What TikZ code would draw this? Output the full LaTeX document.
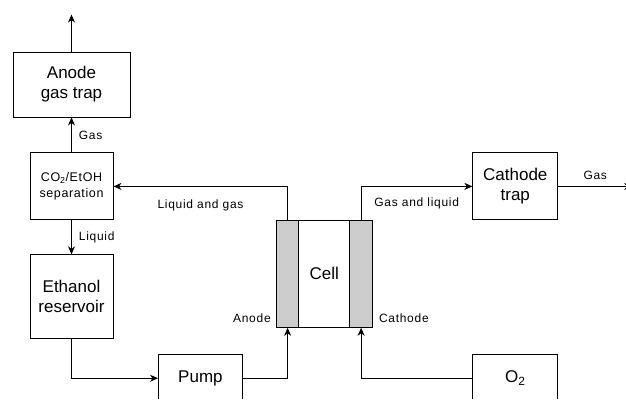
\documentclass[tikz,border=0pt]{standalone}
\usepackage{fontspec}
\setmainfont{Liberation Sans}
\usetikzlibrary{positioning,arrows.meta,calc}

\begin{document}
\begin{tikzpicture}[
  x=1pt, y=1pt,
  >={Stealth[length=8pt, width=7pt, inset=2.5pt]},
  box/.style={draw=black, line width=0.9pt, align=center, inner sep=2pt,
              font=\fontsize{17}{20}\selectfont},
  sepbox/.style={box, font=\fontsize{12.5}{16}\selectfont\addfontfeature{LetterSpace=5}},
  strip/.style={draw=black, line width=0.9pt, fill=black!20, inner sep=0pt,
                minimum width=22.5pt, minimum height=107pt},
  arr/.style={->, line width=0.9pt, black},
  lbl/.style={font=\fontsize{12}{14}\selectfont\addfontfeature{LetterSpace=6}, inner sep=0pt},
]
\useasboundingbox (0,0) rectangle (626,400);
\clip (0,1.8) rectangle (626,400);

%% ---------- anode side (left column) ----------
\node[box, minimum width=117pt, minimum height=65pt] (trap) at (71.5,315.5) {Anode\\gas trap};
\node[sepbox, minimum width=83pt, minimum height=67pt, below=35pt of trap] (sep) {CO\textsubscript{2}/EtOH\\separation};
\node[box, minimum width=83pt, minimum height=84pt, below=34pt of sep] (res) {Ethanol\\reservoir};
\node[box, minimum width=84pt, minimum height=48pt, anchor=west] (pump) at ($(res.south)+(86.5pt,-39pt)$) {Pump};

%% ---------- cell with its two electrodes ----------
\node[box, minimum width=96pt, minimum height=107pt, anchor=south west] (cell) at ($(pump.north east)+(33pt,26pt)$) {Cell};
\node[strip, anchor=north west] (an) at (cell.north west) {};
\node[strip, anchor=north east] (ca) at (cell.north east) {};
\node[lbl, anchor=east] (anlbl) at ($(an.south west)+(-5pt,10pt)$) {Anode};
\node[lbl, anchor=west] (calbl) at ($(ca.south east)+(6pt,10pt)$) {Cathode};

%% ---------- cathode side (right column) ----------
\coordinate (cx) at ($(cell.east)+(142.5pt,0)$);
\node[box, minimum width=85pt, minimum height=67pt] (ctrap) at (cx |- sep) {Cathode\\trap};
\node[box, minimum width=85pt, minimum height=48pt] (otwo) at (cx |- pump) {O\textsubscript{2}};

%% ---------- flows ----------
\coordinate (vent) at ($(trap.north)+(0,37pt)$);
\draw[arr] (trap.north) -- (vent);
\draw[arr] (sep.north) -- node[lbl, right=7pt]{Gas} (trap.south);
\draw[arr] (sep.south) -- node[lbl, right=7pt]{Liquid} (res.north);
\draw[arr] (res.south) |- (pump.west);
\draw[arr] (pump.east) -| (an.south);
\draw[arr] (an.north) |- node[lbl, pos=0.75, below=13pt]{Liquid and gas} (sep.east);
\draw[arr] (ca.north) |- node[lbl, pos=0.75, below=10.5pt]{Gas and liquid} (ctrap.west);
\draw[arr] (otwo.west) -| (ca.south);
%% cathode exhaust leaves the picture on the right
\coordinate (gasout) at ($(ctrap.east)+(74pt,0)$);
\draw[arr] (ctrap.east) -- node[lbl, above=6pt]{Gas} (gasout);

\end{tikzpicture}
\end{document}
